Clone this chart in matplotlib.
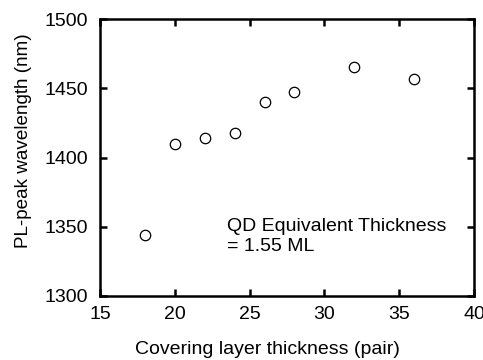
#!/usr/bin/env python3
import matplotlib

matplotlib.use("Agg")
import matplotlib.pyplot as plt

# covering layer thickness (pair) vs PL-peak wavelength (nm)
thickness = [18, 20, 22, 24, 26, 28, 32, 36]
wavelength = [1344, 1410, 1414, 1418, 1440, 1447, 1465, 1457]

xticks = [15, 20, 25, 30, 35, 40]
yticks = [1300, 1350, 1400, 1450, 1500]

plt.rcParams.update(
    {
        "font.family": ["Liberation Sans", "DejaVu Sans"],
        "font.size": 14,
        "axes.linewidth": 1.8,
    }
)

fig = plt.figure(figsize=(4.83, 3.6), dpi=100)
ax = fig.add_axes([100 / 483, 1 - 296 / 360, 374 / 483, 277 / 360])

ax.plot(thickness, wavelength, linestyle="none", marker="o", markersize=7.5,
        markerfacecolor="white", markeredgecolor="black", markeredgewidth=0.9)

ax.set_xlim(15, 40)
ax.set_ylim(1300, 1500)
ax.set_xticks(xticks)
ax.set_yticks(yticks)
ax.tick_params(direction="in", top=True, right=True, length=5, width=1.8,
               labelsize=14)
ax.tick_params(axis="x", pad=7.5)
ax.tick_params(axis="y", pad=8.5)
ax.set_xlabel("Covering layer thickness (pair)", fontsize=14)
ax.set_ylabel("PL-peak wavelength (nm)", fontsize=13.6)
ax.xaxis.set_label_coords(0.449, -0.162)
ax.yaxis.set_label_coords(-0.182, 0.56)

ax.text(23.5, 1343, "QD Equivalent Thickness\n= 1.55 ML", fontsize=14,
        ha="left", va="center", linespacing=1.2)

fig.savefig("out.png", dpi=100)
